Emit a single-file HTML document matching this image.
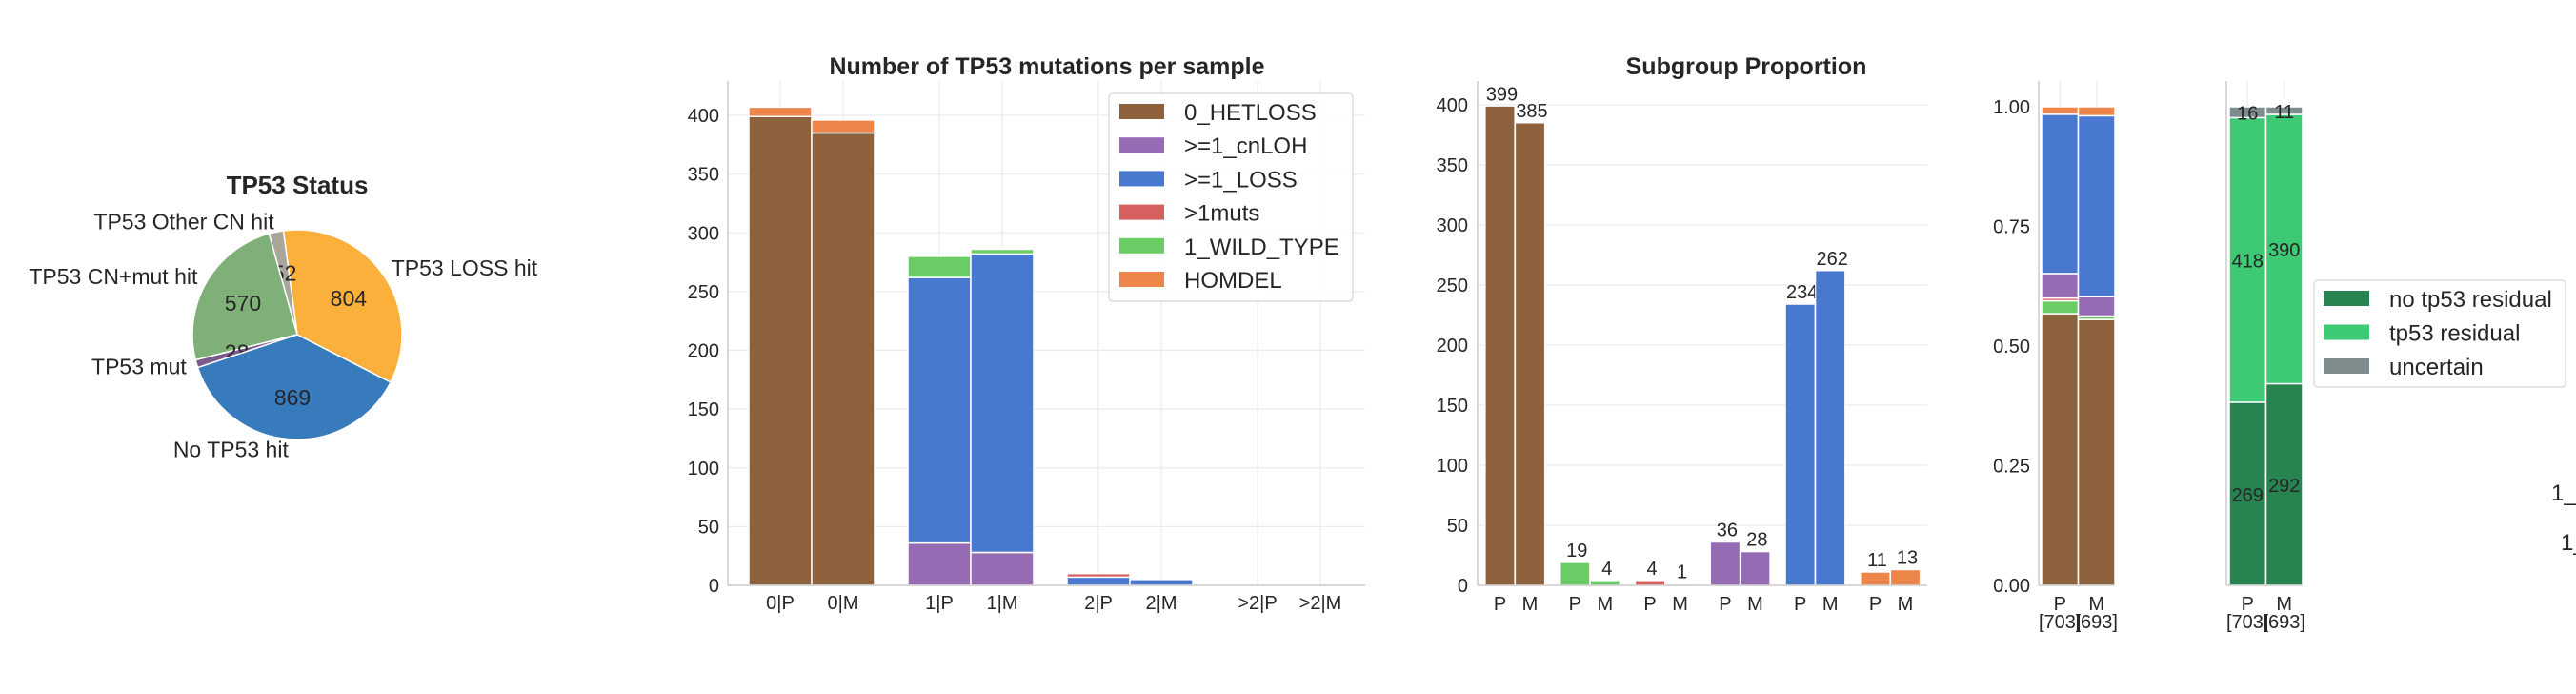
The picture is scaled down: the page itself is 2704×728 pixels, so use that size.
<!DOCTYPE html>
<html><head><meta charset="utf-8">
<style>
html,body{margin:0;padding:0;background:#fff;}
svg{display:block;font-family:"Liberation Sans",Arial,sans-serif;}
</style></head>
<body>
<svg id="fig" width="2704" height="728" viewBox="0 0 2704 728" xmlns="http://www.w3.org/2000/svg">
<rect width="2704" height="728" fill="#fff"/>
<text x="2678" y="525" font-size="24" fill="#262626">1_</text>
<text x="2688" y="577" font-size="24" fill="#262626">1_</text>
</svg>
<script>
// ---------- data ----------
const pieLabels = ["TP53 LOSS hit","TP53 Other CN hit","TP53 CN+mut hit","TP53 mut","No TP53 hit"];
const pieValues = [804, 52, 570, 28, 869];
const pieColors = ["#fbb03b","#a9a69a","#7fb077","#7b5a8c","#377bbd"];

const mutCategories = ["0|P","0|M","1|P","1|M","2|P","2|M",">2|P",">2|M"];
const mutSeriesNames = ["0_HETLOSS",">=1_cnLOH",">=1_LOSS",">1muts","1_WILD_TYPE","HOMDEL"];
const mutHetloss = [399,385,0,0,0,0,0,0];
const mutCnloh   = [0,0,36,28,0,0,0,0];
const mutLoss    = [0,0,226,254,7,5,0,0];
const mutMuts    = [0,0,0,0,3,0,0,0];
const mutWild    = [0,0,18,4,0,0,0,0];
const mutHomdel  = [8,11,0,0,0,0,0,0];
const mutTicks = [0,50,100,150,200,250,300,350,400];

const subGroups = ["0_HETLOSS","1_WILD_TYPE",">1muts",">=1_cnLOH",">=1_LOSS","HOMDEL"];
const subP = [399,19,4,36,234,11];
const subM = [385,4,1,28,262,13];
const subTicks = [0,50,100,150,200,250,300,350,400];

const propCats = ["P","M"];
const propTotals = [703,693];
const propTicks = [0,0.25,0.5,0.75,1.0];
const propTickLabels = ["0.00","0.25","0.50","0.75","1.00"];

const resNames = ["no tp53 residual","tp53 residual","uncertain"];
const resNo = [269,292];
const resYes = [418,390];
const resUnc = [16,11];

const C = {HETLOSS:"#8c613c",cnLOH:"#956cb4",LOSS:"#4878d0",muts:"#d65f5f",WT:"#6acc64",HOMDEL:"#ee854a"};
const mutColors = [C.HETLOSS,C.cnLOH,C.LOSS,C.muts,C.WT,C.HOMDEL];
const subColors = [C.HETLOSS,C.WT,C.muts,C.cnLOH,C.LOSS,C.HOMDEL];
const resColors = ["#27834f","#3ec975","#7f8c8d"];

// ---------- helpers ----------
const NS="http://www.w3.org/2000/svg";
const svg=document.getElementById('fig');
function mk(tag,attrs,parent){const e=document.createElementNS(NS,tag);for(const k in attrs)e.setAttribute(k,attrs[k]);(parent||svg).appendChild(e);return e;}
function txt(x,y,s,size,anchor,parent,extra){const e=mk('text',Object.assign({x:x,y:y,'font-size':size,'text-anchor':anchor||'middle',fill:'#262626'},extra||{}),parent);e.textContent=s;return e;}
const GRID='#ebebeb', SPINE='#cccccc';

// ---------- pie ----------
(function(){
  const g=mk('g',{});
  
  
  const cx=312, cy=351, r=110;
  const t=txt(cx,203,"TP53 Status",26,'middle',g,{'font-weight':'bold'});
  
  
  const total=pieValues.reduce((a,b)=>a+b,0);
  let a0=-27;
  pieValues.forEach((v,i)=>{
    const span=v/total*360, a1=a0+span;
    const r0=a0*Math.PI/180, r1=a1*Math.PI/180;
    const x0=cx+r*Math.cos(r0), y0=cy-r*Math.sin(r0), x1=cx+r*Math.cos(r1), y1=cy-r*Math.sin(r1);
    const p=mk('path',{d:`M${cx},${cy} L${x0},${y0} A${r},${r} 0 ${span>180?1:0} 0 ${x1},${y1} Z`,fill:pieColors[i],stroke:'#fff','stroke-width':1.5},g);
    
    
    const m=(a0+span/2)*Math.PI/180;
    const lx=cx+1.1*r*Math.cos(m), ly=cy-1.1*r*Math.sin(m);
    const l=txt(lx,ly+8,pieLabels[i],23,Math.cos(m)>=0?'start':'end',g);
    
    
    const vx=cx+0.6*r*Math.cos(m), vy=cy-0.6*r*Math.sin(m);
    const vl=txt(vx,vy+8,String(v),23,'middle',g);
    
    
    a0=a1;
  });
})();

// ---------- chart 2: mutations per sample ----------
(function(){
  const g=mk('g',{});
  
  
  const x0=764, x1=1433, yb=614, ytop=85, k=493/400;
  const Y=v=>yb-v*k;
  const barW=66, start=786, gs=167;
  const Xl=i=>start+Math.floor(i/2)*gs+(i%2)*barW;
  mutTicks.forEach(tk=>{
    mk('line',{x1:x0,x2:x1,y1:Y(tk),y2:Y(tk),stroke:GRID,'stroke-width':1.2},g);
    const l=txt(755,Y(tk)+7,String(tk),20,'end',g);
    
    
  });
  mutCategories.forEach((c,i)=>{
    mk('line',{x1:Xl(i)+barW/2,x2:Xl(i)+barW/2,y1:ytop,y2:yb,stroke:GRID,'stroke-width':1.2},g);
    const l=txt(Xl(i)+barW/2,639,c,20,'middle',g);
    
    
  });
  const series=[mutHetloss,mutCnloh,mutLoss,mutMuts,mutWild,mutHomdel];
  mutCategories.forEach((c,i)=>{
    let acc=0;
    series.forEach((s,j)=>{
      if(s[i]<=0)return;
      const r=mk('rect',{x:Xl(i),y:Y(acc+s[i]),width:barW,height:s[i]*k,fill:mutColors[j],stroke:'#fff','stroke-width':1.5},g);
      
      
      acc+=s[i];
    });
  });
  mk('line',{x1:x0,x2:x0,y1:ytop,y2:yb,stroke:SPINE,'stroke-width':1.5},g);
  mk('line',{x1:x0,x2:x1,y1:yb,y2:yb,stroke:SPINE,'stroke-width':1.5},g);
  const t=txt(1099,78,"Number of TP53 mutations per sample",25,'middle',g,{'font-weight':'bold'});
  
  
  const lg=mk('g',{},g);
  
  
  mk('rect',{x:1164,y:98,width:256,height:218,rx:4,fill:'#fff','fill-opacity':0.9,stroke:'#d6d6d6','stroke-width':1.2},lg);
  mutSeriesNames.forEach((n,j)=>{
    const yy=117+j*35.2;
    mk('rect',{x:1175,y:yy-8,width:47,height:16,fill:mutColors[j]},lg);
    const l=txt(1243,yy+9,n,24,'start',lg);
    
    
  });
})();

// ---------- chart 3: subgroup proportion ----------
(function(){
  const g=mk('g',{});
  
  
  const x0=1551, x1=2023, yb=614, ytop=85, k=504/400;
  const Y=v=>yb-v*k;
  const bw=31, start=1559, gs=78.8;
  subTicks.forEach(tk=>{
    mk('line',{x1:x0,x2:x1,y1:Y(tk),y2:Y(tk),stroke:GRID,'stroke-width':1.2},g);
    const l=txt(1541,Y(tk)+7,String(tk),20,'end',g);
    
    
  });
  subGroups.forEach((n,i)=>{
    [subP,subM].forEach((arr,j)=>{
      const x=start+i*gs+j*(bw+0.5);
      const r=mk('rect',{x:x,y:Y(arr[i]),width:bw,height:arr[i]*k,fill:subColors[i],stroke:'#fff','stroke-width':1.2},g);
      
      
      const v=txt(x+bw/2+2,Y(arr[i])-6,String(arr[i]),20,'middle',g);
      
      
      const l=txt(x+bw/2,640,j?'M':'P',20,'middle',g);
      
      
    });
  });
  mk('line',{x1:x0,x2:x0,y1:ytop,y2:yb,stroke:SPINE,'stroke-width':1.5},g);
  mk('line',{x1:x0,x2:x1,y1:yb,y2:yb,stroke:SPINE,'stroke-width':1.5},g);
  const t=txt(1833,78,"Subgroup Proportion",25,'middle',g,{'font-weight':'bold'});
  
  
})();

// ---------- chart 4: proportions ----------
(function(){
  const g=mk('g',{});
  
  
  const x0=2140, yb=614, ytop=85, k=502;
  const Y=v=>yb-v*k;
  const bw=38.5, start=2143;
  propTicks.forEach((tk,i)=>{
    const l=txt(2131,Y(tk)+7,propTickLabels[i],20,'end',g);
    
    
  });
  propCats.forEach((c,i)=>mk('line',{x1:start+i*bw+bw/2,x2:start+i*bw+bw/2,y1:ytop,y2:yb,stroke:GRID,'stroke-width':1.2},g));
  [subP,subM].forEach((arr,i)=>{
    let acc=0;
    const x=start+i*bw;
    arr.forEach((v,j)=>{
      const p=v/propTotals[i];
      const r=mk('rect',{x:x,y:Y(acc+p),width:bw,height:p*k,fill:subColors[j],stroke:'#fff','stroke-width':1.5},g);
      
      
      acc+=p;
    });
    const l=txt(x+bw/2,640,propCats[i],20,'middle',g);
    
    
    const l2=txt(x+bw/2,659,'['+propTotals[i]+']',20,'middle',g);
    
    
  });
  mk('line',{x1:x0,x2:x0,y1:ytop,y2:yb,stroke:SPINE,'stroke-width':1.5},g);
  mk('line',{x1:x0,x2:start+2*bw,y1:yb,y2:yb,stroke:SPINE,'stroke-width':1.5},g);
})();

// ---------- chart 5: residual ----------
(function(){
  const g=mk('g',{});
  
  
  const x0=2337, yb=614, ytop=85, k=502;
  const Y=v=>yb-v*k;
  const bw=38.5, start=2340;
  propCats.forEach((c,i)=>mk('line',{x1:start+i*bw+bw/2,x2:start+i*bw+bw/2,y1:ytop,y2:yb,stroke:GRID,'stroke-width':1.2},g));
  const series=[resNo,resYes,resUnc];
  propCats.forEach((c,i)=>{
    const x=start+i*bw;
    let acc=0;
    series.forEach((s,j)=>{
      const p=s[i]/propTotals[i];
      const r=mk('rect',{x:x,y:Y(acc+p),width:bw,height:p*k,fill:resColors[j],stroke:'#fff','stroke-width':1.5},g);
      
      
      const v=txt(x+bw/2,Y(acc+p/2)+8,String(s[i]),20,'middle',g);
      
      
      acc+=p;
    });
    const l=txt(x+bw/2,640,c,20,'middle',g);
    
    
    const l2=txt(x+bw/2,659,'['+propTotals[i]+']',20,'middle',g);
    
    
  });
  mk('line',{x1:x0,x2:x0,y1:ytop,y2:yb,stroke:SPINE,'stroke-width':1.5},g);
  mk('line',{x1:x0,x2:start+2*bw,y1:yb,y2:yb,stroke:SPINE,'stroke-width':1.5},g);
  const lg=mk('g',{},g);
  
  
  mk('rect',{x:2429,y:294,width:264,height:112,rx:4,fill:'#fff',stroke:'#d6d6d6','stroke-width':1.2},lg);
  resNames.forEach((n,j)=>{
    const yy=313+j*35.5;
    mk('rect',{x:2439,y:yy-8,width:48,height:16,fill:resColors[j]},lg);
    const l=txt(2508,yy+9,n,24,'start',lg);
    
    
  });
})();
</script>
</body></html>
